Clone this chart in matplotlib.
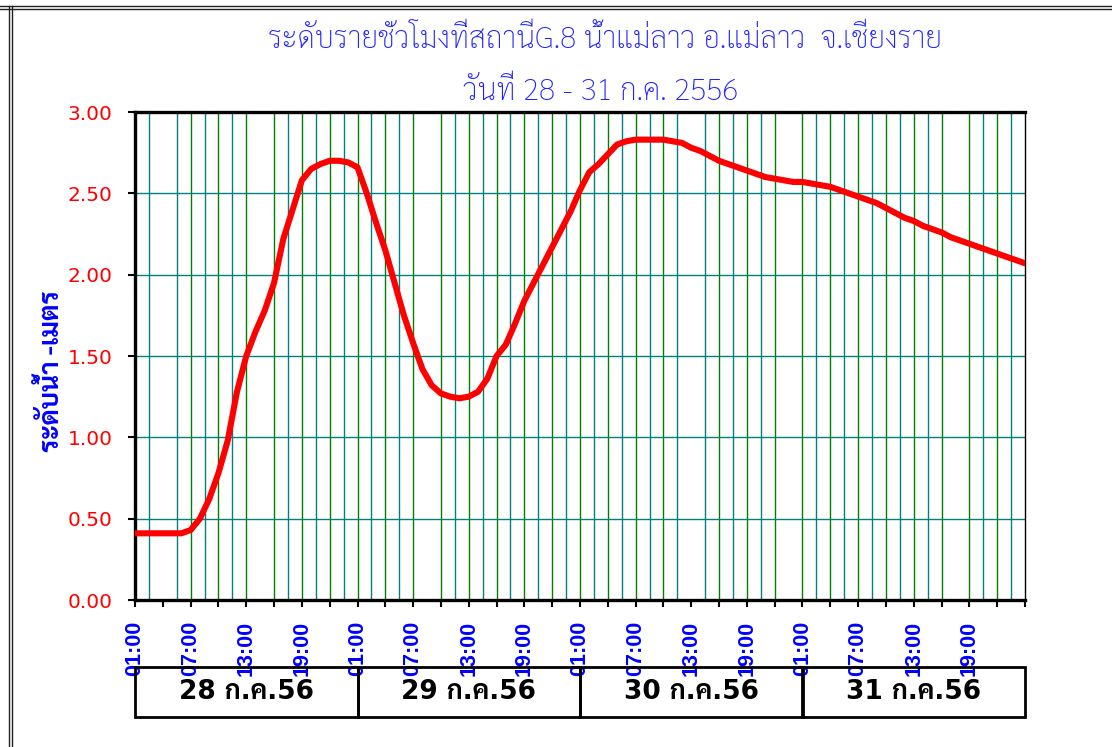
import matplotlib
matplotlib.use("Agg")
import matplotlib.pyplot as plt
from matplotlib.lines import Line2D
from matplotlib.patches import Rectangle
from matplotlib.transforms import blended_transform_factory
import numpy as np

# ---------------- data ----------------
title_line1 = "ระดับรายชั่วโมงที่สถานีG.8 น้ำแม่ลาว อ.แม่ลาว  จ.เชียงราย"
title_line2 = "วันที่ 28 - 31 ก.ค. 2556"
y_label = "ระดับน้ำ -เมตร"
day_labels = ["28 ก.ค.56", "29 ก.ค.56", "30 ก.ค.56", "31 ก.ค.56"]
hour_labels = ["01:00", "07:00", "13:00", "19:00"]

# hourly water level (m), hour 0 = 01:00 on 28 Jul
water_level = [
    0.41, 0.41, 0.41, 0.41, 0.41, 0.41, 0.43, 0.50, 0.62, 0.78,
    0.98, 1.28, 1.50, 1.65, 1.78, 1.95, 2.22, 2.40, 2.58, 2.65,
    2.68, 2.70, 2.70, 2.69, 2.66, 2.50, 2.32, 2.15, 1.95, 1.75,
    1.58, 1.42, 1.32, 1.27, 1.25, 1.24, 1.25, 1.28, 1.36, 1.50,
    1.57, 1.70, 1.84, 1.95, 2.06, 2.17, 2.28, 2.39, 2.52, 2.63,
    2.68, 2.74, 2.80, 2.82, 2.83, 2.83, 2.83, 2.83, 2.82, 2.81,
    2.78, 2.76, 2.73, 2.70, 2.68, 2.66, 2.64, 2.62, 2.60, 2.59,
    2.58, 2.57, 2.57, 2.56, 2.55, 2.54, 2.52, 2.50, 2.48, 2.46,
    2.44, 2.41, 2.38, 2.35, 2.33, 2.30, 2.28, 2.26, 2.23, 2.21,
    2.19, 2.17, 2.15, 2.13, 2.11, 2.09, 2.07,
]
hours = np.arange(len(water_level))

# ---------------- figure ----------------
W, H = 1112, 747
fig = plt.figure(figsize=(W / 100, H / 100), dpi=100)
fig.patch.set_facecolor("white")

def fx(px):
    return px / W

def fy(py):
    return 1 - py / H

ax = fig.add_axes([fx(135), fy(600), fx(1025) - fx(135), fy(112) - fy(600)])
ax.set_xlim(0, 96)
ax.set_ylim(0, 3.0)

thai = ["Sarabun", "Noto Sans Thai", "DejaVu Sans"]

# vertical grid lines (green every 3 h, teal in between)
skip = {3.0, 13.5, 31.5, 60.0, 70.5, 88.5}
for v in np.arange(1.5, 96, 1.5):
    if round(v, 1) in skip:
        continue
    col = "#008000" if abs(v / 3 - round(v / 3)) < 1e-6 else "#008080"
    ax.axvline(v, color=col, lw=1.0, zorder=1)

# horizontal grid
for yv in np.arange(0.5, 3.0, 0.5):
    ax.axhline(yv, color="#008080", lw=1.0, zorder=1)

ax.plot(hours, water_level, color="#FF0000", lw=4.4, solid_capstyle="round",
        solid_joinstyle="round", zorder=3)

# spines
for s in ["left", "bottom", "top"]:
    ax.spines[s].set_linewidth(2.4)
    ax.spines[s].set_color("black")
ax.spines["right"].set_linewidth(1.0)
ax.spines["right"].set_color("black")

# y ticks
yt = np.arange(0, 3.01, 0.5)
ax.set_yticks(yt)
ax.set_yticklabels([f"{v:.2f}" for v in yt], color="#FF0000",
                   fontsize=14.5, family="DejaVu Sans")
ax.tick_params(axis="y", direction="out", length=5, width=1.5, pad=11)

# x ticks
major = np.arange(0, 96, 6)
ax.set_xticks(major)
ax.set_xticklabels([hour_labels[i % 4] for i in range(len(major))],
                   rotation=90, color="#0000FF", fontsize=15.5,
                   family="Liberation Sans", fontweight="bold", va="top")
ax.set_xticks(np.arange(0, 97, 3), minor=True)
ax.tick_params(axis="x", which="both", direction="out", length=5, width=1.5, pad=10)

# y label
fig.text(fx(52), fy(371), y_label, rotation=90, ha="center", va="center",
         color="#0000FF", fontsize=19, fontweight="bold", family=thai)

# titles
fig.text(fx(605), fy(40), title_line1, ha="center", va="center",
         color="#2222FF", fontsize=21.5, fontweight="light", family=thai)
fig.text(fx(601), fy(92), title_line2, ha="center", va="center",
         color="#2222FF", fontsize=21.5, fontweight="light", family=thai)

# date table below the axis
tr = blended_transform_factory(ax.transData, fig.transFigure)
y0, y1 = fy(717), fy(667)
for i, lab in enumerate(day_labels):
    rect = Rectangle((i * 24, y0), 24, y1 - y0, transform=tr, fill=False,
                     edgecolor="black", lw=2.0, clip_on=False, zorder=2)
    fig.add_artist(rect)
    ax.text(i * 24 + 12, (y0 + y1) / 2, lab, transform=tr, ha="center",
            va="center", fontsize=19, fontweight="bold", color="black",
            family=["DejaVu Sans", "Sarabun"], clip_on=False)

# outer frame (double lines at top and left)
for yy in (6, 9):
    fig.add_artist(Line2D([0, 1], [fy(yy), fy(yy)], transform=fig.transFigure,
                          color="#222222", lw=1.0))
for xx in (9, 12):
    fig.add_artist(Line2D([fx(xx), fx(xx)], [0, fy(6)], transform=fig.transFigure,
                          color="#222222", lw=1.0))

fig.savefig("out.png", dpi=100)
